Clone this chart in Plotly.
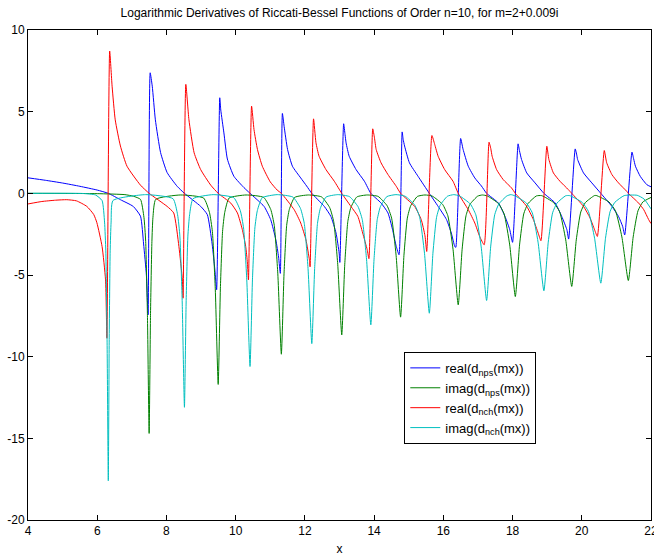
import plotly.graph_objects as go

# ---- real(d_nps(mx)) (blue) ----
blue_x = [4.0, 4.5, 5.0, 5.5, 6.0, 6.32, 6.67, 7.04, 7.25, 7.34, 7.42, 7.47, 7.53,
          7.59, 7.68, 7.83, 8.02, 8.31, 8.52, 8.99, 9.18, 9.32, 9.40, 9.45, 9.54,
          9.57, 9.66, 9.76, 9.95, 10.24, 10.415, 10.82, 11.01, 11.16, 11.24, 11.29, 11.35,
          11.40, 11.50, 11.64, 11.88, 12.05, 12.2, 12.56, 12.75, 12.9, 12.99, 13.01, 13.12,
          13.16, 13.19, 13.28, 13.48, 13.72, 13.905, 14.2, 14.4, 14.53, 14.64, 14.72, 14.81,
          14.84, 14.88, 15.02, 15.27, 15.595, 15.85, 16.09, 16.23, 16.33, 16.36, 16.50,
          16.57, 16.72, 16.91, 17.1, 17.25, 17.59, 17.78, 17.92, 18.0, 18.16,
          18.2, 18.26, 18.41, 18.65, 18.905, 19.23, 19.42, 19.57, 19.62, 19.81,
          19.85, 19.88, 20.05, 20.29, 20.55, 20.87, 21.06, 21.18, 21.24, 21.45,
          21.5, 21.55, 21.69, 21.88, 22.0]
blue_y = [0.95, 0.8, 0.63, 0.43, 0.2, 0.0, -0.39, -0.8, -1.4, -3.1, -5.0, -7.44, 7.38,
          6.56, 4.5, 2.5, 1.27, 0.43, 0.0, -0.8, -1.3, -3.1, -4.7, -5.9, 5.85,
          5.1, 3.7, 2.1, 1.04, 0.35, 0.0, -0.8, -1.6, -2.84, -3.9, -4.9, 4.89,
          4.1, 2.68, 1.66, 0.94, 0.45, 0.0, -0.8, -1.41, -2.43, -3.66, -4.23, 4.26,
          3.6, 3.09, 2.27, 1.45, 0.74, 0.0, -0.59, -1.2, -2.2, -3.25, -3.76, 3.76,
          3.3, 2.9, 1.87, 1.04, 0.0, -0.8, -1.6, -2.43, -3.25, -3.31, 3.36,
          2.7, 1.66, 0.94, 0.45, 0.0, -0.59, -1.41, -2.23, -3.0, 3.03,
          2.6, 2.07, 1.25, 0.64, 0.0, -0.59, -1.41, -2.23, -2.8, 2.72,
          2.4, 2.07, 1.25, 0.64, 0.0, -0.8, -1.41, -2.02, -2.55, 2.52,
          2.1, 1.66, 1.04, 0.53, 0.4]

# ---- imag(d_nps(mx)) (green) ----
green_x = [4.0, 6.0, 6.8, 7.05,
           7.25, 7.35, 7.40, 7.45, 7.50, 7.54, 7.58, 7.61, 7.69, 8.4,
           9.075, 9.243, 9.327, 9.411, 9.495, 9.558, 9.621, 9.684, 9.81, 10.3,
           10.81, 11.014, 11.116, 11.218, 11.32, 11.397, 11.473, 11.55, 11.703, 12.1,
           12.483, 12.716, 12.832, 12.949, 13.065, 13.152, 13.24, 13.327, 13.502, 13.8,
           14.117, 14.376, 14.506, 14.635, 14.765, 14.862, 14.959, 15.057, 15.251, 15.47,
           15.68, 15.98, 16.13, 16.28, 16.43, 16.543, 16.655, 16.768, 16.993, 17.13,
           17.27, 17.594, 17.756, 17.918, 18.08, 18.202, 18.323, 18.445, 18.688,
           18.84, 19.188, 19.362, 19.536, 19.71, 19.841, 19.971, 20.102, 20.363,
           20.415, 20.787, 20.973, 21.159, 21.345, 21.485, 21.624, 21.764, 22.0]
green_y = [0.0, -0.02, -0.08, -0.18,
           -0.37, -1.47, -2.94, -7.35, -14.7, -7.35, -2.94, -1.47, -0.37, -0.1,
           -0.29, -1.17, -2.34, -5.85, -11.7, -5.85, -2.34, -1.17, -0.29, -0.1,
           -0.25, -0.99, -1.97, -4.93, -9.85, -4.93, -1.97, -0.99, -0.25, -0.1,
           -0.22, -0.87, -1.73, -4.34, -8.67, -4.34, -1.73, -0.87, -0.22, -0.1,
           -0.19, -0.76, -1.52, -3.79, -7.58, -3.79, -1.52, -0.76, -0.19, -0.1,
           -0.17, -0.68, -1.37, -3.42, -6.83, -3.42, -1.37, -0.68, -0.17, -0.1,
           -0.16, -0.63, -1.26, -3.16, -6.32, -3.16, -1.26, -0.63, -0.16,
           -0.14, -0.57, -1.14, -2.85, -5.7, -2.85, -1.14, -0.57, -0.14,
           -0.13, -0.53, -1.07, -2.67, -5.34, -2.67, -1.07, -0.53, -0.25]

# ---- real(d_nch(mx)) (red) ----
red_x = [4.0, 4.4, 4.8, 5.12, 5.4, 5.7, 5.9, 5.99, 6.14, 6.24, 6.28, 6.36,
         6.43, 6.52, 6.67, 6.86, 7.25, 7.50, 8.02, 8.21, 8.36, 8.46, 8.48, 8.56,
         8.65, 8.8, 8.99, 9.28, 9.495, 9.86, 10.05, 10.19, 10.29, 10.34, 10.37, 10.46,
         10.53, 10.63, 10.77, 11.0, 11.2, 11.32, 11.69, 11.88, 12.03, 12.13, 12.15, 12.25,
         12.32, 12.41, 12.61, 12.85, 13.065, 13.33, 13.53, 13.67, 13.8, 13.85, 13.96,
         14.01, 14.06, 14.2, 14.4, 14.64, 14.765, 15.17, 15.36, 15.47, 15.52, 15.67,
         15.75, 15.85, 16.04, 16.28, 16.43, 16.72, 16.91, 17.05, 17.18, 17.32,
         17.37, 17.41, 17.54, 17.73, 17.97, 18.08, 18.41, 18.6, 18.74, 18.82, 18.99,
         19.05, 19.18, 19.37, 19.61, 19.71, 20.05, 20.24, 20.37, 20.45, 20.65,
         20.72, 20.87, 21.06, 21.3, 21.345, 21.64, 21.79, 21.93, 22.0]
red_y = [-0.65, -0.5, -0.42, -0.39, -0.46, -0.8, -1.3, -1.8, -3.25, -5.3, -8.87, 8.71,
         6.56, 4.5, 2.9, 1.66, 0.5, 0.0, -0.8, -1.2, -3.25, -5.3, -6.42, 6.67,
         4.5, 2.48, 1.45, 0.5, 0.0, -0.6, -1.2, -2.2, -3.25, -4.27, -5.3, 5.34,
         3.9, 2.68, 1.66, 0.7, 0.2, 0.0, -1.0, -1.82, -2.84, -4.07, -4.5, 4.56,
         3.1, 2.27, 1.45, 0.74, 0.0, -0.8, -1.41, -2.43, -3.45, -4.0, 3.95,
         3.4, 2.68, 1.87, 1.15, 0.43, 0.0, -0.8, -1.6, -2.6, -3.56, 3.54,
         3.0, 2.27, 1.45, 0.74, 0.0, -1.0, -1.82, -2.64, -3.15, 3.13,
         2.75, 2.27, 1.45, 0.84, 0.33, 0.0, -0.8, -1.6, -2.43, -2.9, 2.88,
         2.07, 1.25, 0.74, 0.23, 0.0, -0.8, -1.51, -2.23, -2.64, 2.62,
         1.87, 1.15, 0.64, 0.12, 0.0, -0.59, -1.0, -1.6, -1.85]

# ---- imag(d_nch(mx)) (cyan) ----
cyan_x = [4.0, 5.6, 5.95,
          6.14, 6.212, 6.248, 6.284, 6.32, 6.347, 6.374, 6.401, 6.455, 7.4,
          8.19, 8.322, 8.388, 8.454, 8.52, 8.57, 8.619, 8.669, 8.768, 9.35,
          9.947, 10.134, 10.228, 10.321, 10.415, 10.485, 10.555, 10.626, 10.766, 11.2,
          11.654, 11.872, 11.982, 12.091, 12.2, 12.282, 12.364, 12.446, 12.61, 12.95,
          13.287, 13.534, 13.658, 13.781, 13.905, 13.998, 14.09, 14.183, 14.369, 14.63,
          14.899, 15.177, 15.317, 15.456, 15.595, 15.699, 15.804, 15.908, 16.117, 16.3,
          16.47, 16.782, 16.938, 17.094, 17.25, 17.367, 17.484, 17.601, 17.835, 17.95,
          18.065, 18.401, 18.569, 18.737, 18.905, 19.031, 19.157, 19.283, 19.535,
          19.65, 20.01, 20.19, 20.37, 20.55, 20.685, 20.82, 20.955, 21.225,
          21.6, 21.8, 22.0]
cyan_y = [0.0, -0.01, -0.1,
          -0.44, -1.76, -3.52, -8.8, -17.6, -8.8, -3.52, -1.76, -0.44, -0.08,
          -0.33, -1.31, -2.62, -6.55, -13.1, -6.55, -2.62, -1.31, -0.33, -0.08,
          -0.27, -1.06, -2.12, -5.3, -10.6, -5.3, -2.12, -1.06, -0.27, -0.08,
          -0.23, -0.92, -1.84, -4.6, -9.2, -4.6, -1.84, -0.92, -0.23, -0.08,
          -0.2, -0.81, -1.61, -4.03, -8.05, -4.03, -1.61, -0.81, -0.2, -0.08,
          -0.18, -0.73, -1.47, -3.67, -7.34, -3.67, -1.47, -0.73, -0.18, -0.08,
          -0.16, -0.66, -1.31, -3.28, -6.56, -3.28, -1.31, -0.66, -0.16, -0.08,
          -0.15, -0.6, -1.19, -2.99, -5.97, -2.99, -1.19, -0.6, -0.15,
          -0.14, -0.55, -1.1, -2.75, -5.5, -2.75, -1.1, -0.55, -0.14,
          -0.12, -0.35, -0.95]

x_ticks = [4, 6, 8, 10, 12, 14, 16, 18, 20, 22]
x_tick_text = ["4", "6", "8", "10", "12", "14", "16", "18", "20", "22"]
y_ticks = [-20, -15, -10, -5, 0, 5, 10]
y_tick_text = ["-20", "-15", "-10", "-5", "0", "5", "10"]

series = [
    ("real(d<sub>nps</sub>(mx))", blue_x, blue_y, "#0000ff"),
    ("imag(d<sub>nps</sub>(mx))", green_x, green_y, "#008000"),
    ("real(d<sub>nch</sub>(mx))", red_x, red_y, "#ff0000"),
    ("imag(d<sub>nch</sub>(mx))", cyan_x, cyan_y, "#00bfbf"),
]

FONT = "Liberation Sans, Arial, sans-serif"
fig = go.Figure()
for name, xs, ys, col in series:
    fig.add_trace(go.Scatter(x=xs, y=ys, mode="lines", name=name,
                             line=dict(color=col, width=1, shape="spline", smoothing=0.5)))

axis_common = dict(showline=True, linecolor="black", linewidth=1, mirror="ticks",
                   ticks="inside", ticklen=5, tickcolor="black", showgrid=False,
                   zeroline=False, automargin=False, ticklabeloverflow="allow",
                   tickfont=dict(family=FONT, size=12, color="black"))

fig.update_layout(
    width=654, height=557,
    margin=dict(l=28, r=3, t=30, b=37),
    paper_bgcolor="white", plot_bgcolor="white",
    font=dict(family=FONT, size=12, color="black"),
    title=dict(text="Logarithmic Derivatives of Riccati-Bessel Functions of Order n=10, for m=2+0.009i",
               x=0.5, xref="paper", xanchor="center", y=0.977, yref="container",
               yanchor="middle", font=dict(family=FONT, size=12, color="black")),
    xaxis=dict(range=[4, 22], tickvals=x_ticks, ticktext=x_tick_text,
               title=dict(text="x", standoff=7, font=dict(family=FONT, size=12)),
               **axis_common),
    yaxis=dict(range=[-20, 10], tickvals=y_ticks, ticktext=y_tick_text, **axis_common),
    legend=dict(x=0.604, y=0.343, xanchor="left", yanchor="top",
                bgcolor="white", bordercolor="black", borderwidth=1,
                font=dict(family=FONT, size=13, color="black"),
                tracegroupgap=0),
    showlegend=True,
)

fig.write_html("out.html", config={"displayModeBar": False},
               post_script="document.body.style.margin='0px';document.body.style.overflow='hidden';")
